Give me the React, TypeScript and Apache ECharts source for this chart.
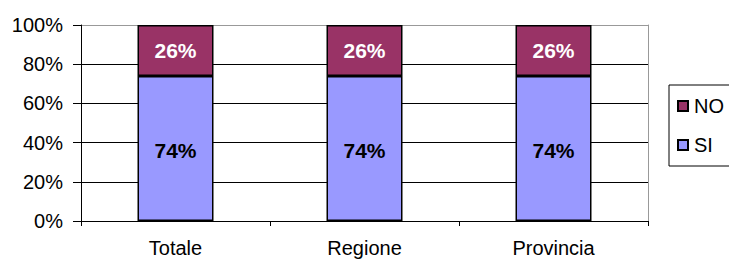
import React, { useEffect, useRef } from "react";
import * as echarts from "echarts";

const categories = ["Totale", "Regione", "Provincia"];
const siValues = [74, 74, 74];
const noValues = [26, 26, 26];
const yTicks = [0, 20, 40, 60, 80, 100];

export default function App() {
  const ref = useRef<HTMLDivElement>(null);
  useEffect(() => {
    document.body.style.margin = "0";
    const chart = echarts.init(ref.current!, null, { renderer: "svg" });
    const font = "'Liberation Sans', Arial, sans-serif";
    chart.setOption({
      animation: false,
      backgroundColor: "#ffffff",
      grid: { left: 81, right: 81, top: 25, bottom: 40, outerBoundsMode: "none", containLabel: false },
      legend: {
        orient: "vertical",
        left: 669,
        top: 85,
        data: ["NO", "SI"],
        itemWidth: 10,
        itemHeight: 10,
        itemGap: 19,
        padding: [11, 60, 11, 8],
        borderColor: "#000",
        borderWidth: 1,
        borderRadius: 0,
        icon: "rect",
        textStyle: { fontFamily: font, fontSize: 20, color: "#000", padding: [0, 0, 0, 1] },
      },
      xAxis: {
        type: "category",
        data: categories,
        axisLine: { lineStyle: { color: "#000", width: 1 } },
        axisTick: { show: true, length: 5, lineStyle: { color: "#000" } },
        axisLabel: { fontFamily: font, fontSize: 20, color: "#000", margin: 17 },
      },
      yAxis: [
        {
          type: "value",
          min: 0,
          max: 100,
          interval: 20,
          axisLine: { show: true, lineStyle: { color: "#000", width: 1 } },
          axisTick: { show: true, length: 8, lineStyle: { color: "#000" } },
          axisLabel: {
            fontFamily: font,
            fontSize: 20,
            color: "#000",
            margin: 18,
            formatter: (v: number) => (yTicks.includes(v) ? v + "%" : ""),
          },
          splitLine: {
            show: true,
            lineStyle: { color: ["#000", "#000", "#000", "#000", "#000", "#999"], width: 1 },
          },
        },
        {
          type: "value",
          min: 0,
          max: 100,
          interval: 20,
          position: "right",
          axisLine: { show: true, lineStyle: { color: "#999", width: 1 } },
          axisTick: { show: false },
          axisLabel: { show: false },
          splitLine: { show: false },
        },
      ],
      series: [
        {
          name: "SI",
          type: "bar",
          stack: "total",
          data: siValues,
          barWidth: 76,
          itemStyle: { color: "#9999FF", borderColor: "#000", borderWidth: 1.5 },
          label: {
            show: true,
            position: "inside",
            offset: [0, 2],
            formatter: "{c}%",
            fontFamily: font,
            fontSize: 21,
            fontWeight: "bold",
            color: "#000",
          },
        },
        {
          name: "NO",
          type: "bar",
          stack: "total",
          data: noValues,
          barWidth: 76,
          itemStyle: { color: "#993366", borderColor: "#000", borderWidth: 1.5 },
          label: {
            show: true,
            position: "inside",
            formatter: "{c}%",
            fontFamily: font,
            fontSize: 21,
            fontWeight: "bold",
            color: "#fff",
          },
        },
      ],
    });
    return () => chart.dispose();
  }, []);
  return <div ref={ref} style={{ width: 729, height: 261 }} />;
}
